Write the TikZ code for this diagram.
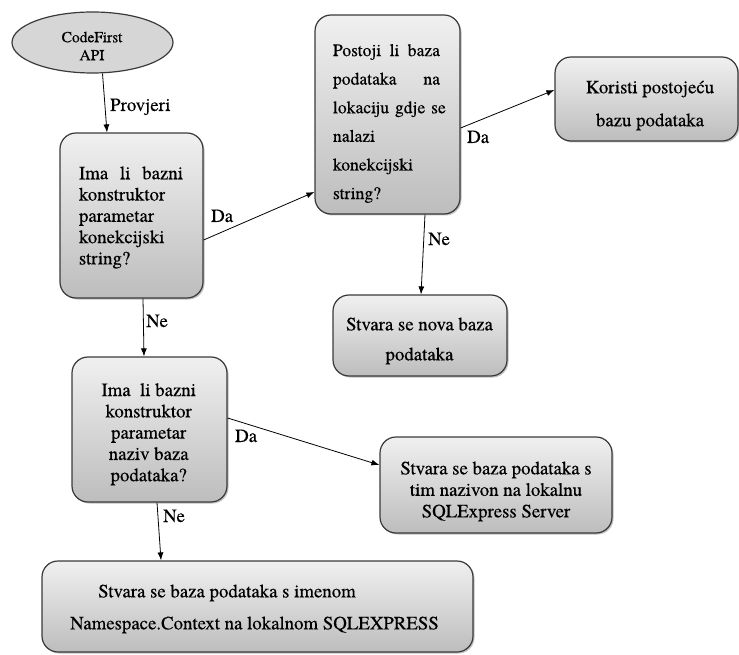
\documentclass[tikz,border=0pt]{standalone}
\usepackage{fontspec}
\setmainfont{TeX Gyre Termes}[UprightFeatures={FakeBold=0.3}]
\usetikzlibrary{arrows.meta,shapes.geometric,shadows}
\definecolor{edgegray}{HTML}{3A3A3A}
\definecolor{toptone}{HTML}{F0F0F0}
\definecolor{bottone}{HTML}{BDBDBD}
\definecolor{ovalfill}{HTML}{D6D6D6}
\begin{document}
\begin{tikzpicture}[x=1pt,y=-1pt,
  flowbox/.style={draw=edgegray, line width=1.2pt, rounded corners=16pt,
    top color=toptone, bottom color=bottone, inner sep=0pt,
    drop shadow={shadow xshift=1.5pt, shadow yshift=-1.5pt, fill=black, opacity=0.25}},
  oval/.style={ellipse, draw=edgegray, line width=1.2pt, fill=ovalfill, inner sep=0pt},
  txt/.style={inner sep=0pt, font=\fontsize{18.8}{21.3}\selectfont},
  lbl/.style={inner sep=0pt, font=\fontsize{18.8}{21}\selectfont, anchor=base west},
  arr/.style={draw=black, line width=0.8pt, -{Latex[length=8pt,width=6pt]}}
]
\useasboundingbox (0,0) rectangle (739,655);

% shapes
\node[oval, minimum width=161pt, minimum height=61pt] (e) at (92.5,42.5) {};
\node[inner sep=0pt, align=center, font=\fontsize{15.5}{18}\selectfont] (et) at (92,46) {CodeFirst\\API};

\node[flowbox, minimum width=143pt, minimum height=165pt] (b1) at (131.5,215.5) {};
\node[txt, text width=104pt, align=left] (b1t) at (131,217.5)
  {\makebox[104pt][l]{Ima\hfill li\hfill bazni}\\konstruktor\\parametar\\konekcijski\\string?};

\node[flowbox, minimum width=145pt, minimum height=199pt] (b2) at (387.5,114.5) {};
\node[txt, text width=107pt, align=left, font=\fontsize{17.6}{28.6}\selectfont] (b2t) at (386.5,123.5)
  {\makebox[107pt][l]{Postoji\hfill li\hfill baza}\\\makebox[107pt][l]{podataka\hfill na}\\\mbox{lokaciju gdje se}\\nalazi\\konekcijski\\string?};

\node[flowbox, minimum width=183pt, minimum height=84pt] (b3) at (646.5,99) {};
\node[txt, align=center, font=\fontsize{18.8}{33}\selectfont] (b3t) at (650,105.5)
  {Koristi postojeću\\bazu podataka};

\node[flowbox, minimum width=174pt, minimum height=81pt] (b4) at (420,335.5) {};
\node[txt, align=center, font=\fontsize{18.8}{30}\selectfont] (b4t) at (419.5,341)
  {Stvara se nova baza\\podataka};

\node[flowbox, minimum width=155pt, minimum height=145pt] (b5) at (149.5,429.5) {};
\node[txt, align=center] (b5t) at (148.7,434.3)
  {Ima\ \ li bazni\\konstruktor\\parametar\\naziv baza\\podataka?};

\node[flowbox, minimum width=232pt, minimum height=96pt] (b6) at (496,485) {};
\node[txt, align=center, font=\fontsize{18.8}{21.5}\selectfont] (b6t) at (496,491.5)
  {Stvara se baza podataka s\\tim nazivon na lokalnu\\SQLExpress Server};

\node[flowbox, minimum width=431pt, minimum height=91pt] (b7) at (257.5,606.5) {};
\node[txt, align=left, font=\fontsize{18.8}{32}\selectfont] (b7t) at (254.5,609)
  {\hspace*{28pt}Stvara se baza podataka s imenom\\Namespace.Context na lokalnom SQLEXPRESS};

% connectors
\draw[arr] ([xshift=10pt]e.south) -- ([xshift=-24.5pt]b1.north);
\draw[arr] ([yshift=-24.5pt]b1.east) -- ([yshift=-77.5pt]b2.west);
\draw[arr] ([yshift=-13.5pt]b2.east) -- ([yshift=9pt]b3.west);
\draw[arr] ([xshift=37.5pt]b2.south) -- ([xshift=1pt]b4.north);
\draw[arr] ([xshift=11.5pt]b1.south) -- ([xshift=-5.5pt]b5.north);
\draw[arr] ([yshift=11.5pt]b5.east) -- ([yshift=20pt]b6.west);
\draw[arr] ([xshift=7.5pt]b5.south) -- ([xshift=-96.5pt]b7.north);

% labels
\node[lbl] (l1) at (110,111) {Provjeri};
\node[lbl] (l2) at (211,222) {Da};
\node[lbl] (l3) at (467,143) {Da};
\node[lbl] (l4) at (428,245) {Ne};
\node[lbl] (l5) at (146,327) {Ne};
\node[lbl] (l6) at (235,442) {Da};
\node[lbl] (l7) at (163,522) {Ne};
\end{tikzpicture}
\end{document}
